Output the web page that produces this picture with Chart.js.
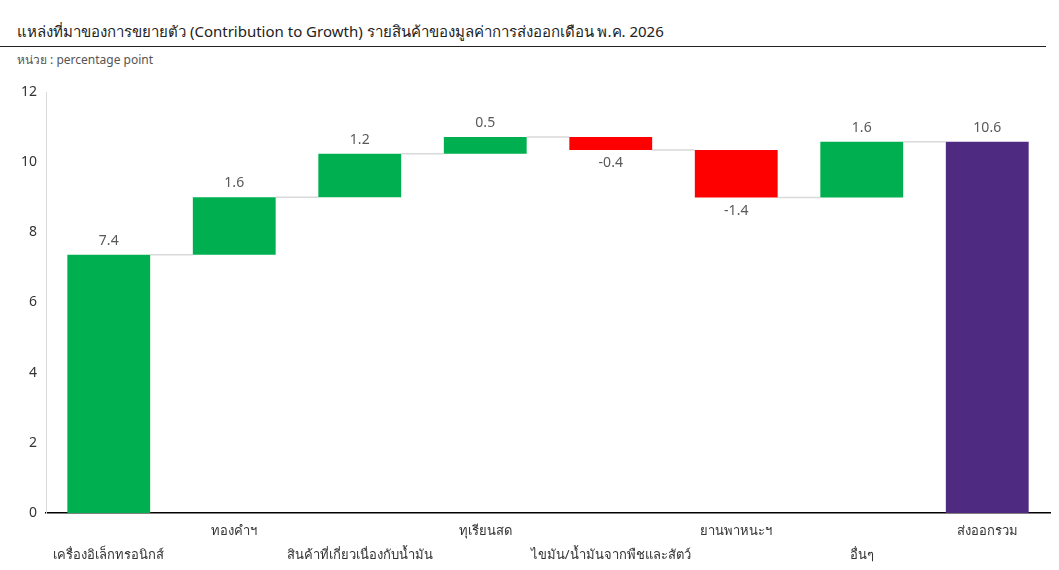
<!DOCTYPE html>
<html>
<head>
<meta charset="utf-8">
<script src="https://cdn.jsdelivr.net/npm/chart.js@4.4.1/dist/chart.umd.min.js"></script>
<style>
  html, body { margin: 0; padding: 0; background: #fff; }
  body { width: 1059px; height: 570px; position: relative; overflow: hidden; font-family: "Noto Sans", sans-serif; }
  #titulo { position: absolute; left: 17px; top: 20px; font-size: 15px; color: #222; white-space: nowrap; }
  #linea { position: absolute; left: 0; top: 46px; width: 1046px; height: 0; border-top: 1.5px solid #222; }
  #unidad { position: absolute; left: 17px; top: 50px; font-size: 12px; color: #555; }
  #wrap { position: absolute; left: 0; top: 0; width: 1059px; height: 570px; }
</style>
</head>
<body>
<div id="titulo">แหล่งที่มาของการขยายตัว (Contribution to Growth) รายสินค้าของมูลค่าการส่งออกเดือน พ.ค. 2026</div>
<div id="linea"></div>
<div id="unidad">หน่วย : percentage point</div>
<div id="wrap"><canvas id="grafica"></canvas></div>
<script>
// --- DATOS ---
const categorias = [
    "เครื่องอิเล็กทรอนิกส์",
    "ทองคำฯ",
    "สินค้าที่เกี่ยวเนื่องกับน้ำมัน",
    "ทุเรียนสด",
    "ไขมัน/น้ำมันจากพืชและสัตว์",
    "ยานพาหนะฯ",
    "อื่นๆ",
    "ส่งออกรวม"
];
const contribuciones = [7.36, 1.64, 1.24, 0.48, -0.37, -1.36, 1.59];
const ticksY = [0, 2, 4, 6, 8, 10, 12];

const VERDE = "#00b050";
const ROJO = "#ff0000";
const MORADO = "#4e2a80";

// rangos flotantes del waterfall
let acumulado = 0;
const rangos = contribuciones.map(v => {
    const r = [acumulado, acumulado + v];
    acumulado += v;
    return r;
});
const total = acumulado;
rangos.push([0, total]);
const valores = contribuciones.concat([total]);
const colores = valores.map((v, i) => i === valores.length - 1 ? MORADO : (v >= 0 ? VERDE : ROJO));

// etiquetas escalonadas en dos filas
const etiquetas = categorias.map((c, i) => i % 2 === 0 ? ["", c] : [c, ""]);

// --- PLUGINS ---
const conectores = {
    id: "conectores",
    beforeDatasetsDraw(chart) {
        const ctx = chart.ctx;
        const meta = chart.getDatasetMeta(0);
        const y = chart.scales.y;
        ctx.save();
        ctx.strokeStyle = "#d9d9d9";
        ctx.lineWidth = 1.5;
        for (let i = 0; i < meta.data.length - 1; i++) {
            const a = meta.data[i], b = meta.data[i + 1];
            const nivel = y.getPixelForValue(rangos[i][1]);
            ctx.beginPath();
            ctx.moveTo(a.x + a.width / 2, nivel);
            ctx.lineTo(b.x - b.width / 2, nivel);
            ctx.stroke();
        }
        ctx.restore();
    }
};

const valoresBarra = {
    id: "valoresBarra",
    afterDatasetsDraw(chart) {
        const ctx = chart.ctx;
        const meta = chart.getDatasetMeta(0);
        ctx.save();
        ctx.font = "14px 'Noto Sans', sans-serif";
        ctx.fillStyle = "#595959";
        ctx.textAlign = "center";
        ctx.textBaseline = "middle";
        meta.data.forEach((bar, i) => {
            const v = valores[i];
            const arriba = Math.min(bar.y, bar.base);
            const abajo = Math.max(bar.y, bar.base);
            const yy = v >= 0 ? arriba - 14 : abajo + 13;
            ctx.fillText(v.toFixed(1), bar.x, yy);
        });
        ctx.restore();
    }
};

new Chart(document.getElementById("grafica"), {
    type: "bar",
    data: {
        labels: etiquetas,
        datasets: [{
            data: rangos,
            backgroundColor: colores,
            borderWidth: 0,
            categoryPercentage: 1,
            barPercentage: 0.66
        }]
    },
    options: {
        responsive: true,
        maintainAspectRatio: false,
        animation: false,
        layout: { padding: { top: 92, right: 9, bottom: 3, left: 0 } },
        plugins: { legend: { display: false }, tooltip: { enabled: false }, title: { display: false } },
        scales: {
            x: {
                afterFit(scale) { scale.height = 54; },
                grid: { display: false, drawTicks: false },
                border: { color: "#000", width: 1.5 },
                ticks: {
                    color: "#333",
                    font: { size: 13, family: "'Noto Sans', sans-serif", lineHeight: 1.8 },
                    maxRotation: 0,
                    autoSkip: false,
                    padding: 7
                }
            },
            y: {
                min: 0,
                max: 12,
                afterBuildTicks(scale) { scale.ticks = ticksY.map(v => ({ value: v })); },
                afterFit(scale) { scale.width = 46; },
                grid: { display: false, drawTicks: false },
                border: { color: "#d9d9d9", width: 1 },
                ticks: {
                    color: "#333",
                    font: { size: 14, family: "'Noto Sans', sans-serif" },
                    padding: 9
                }
            }
        }
    },
    plugins: [conectores, valoresBarra]
});
</script>
</body>
</html>
